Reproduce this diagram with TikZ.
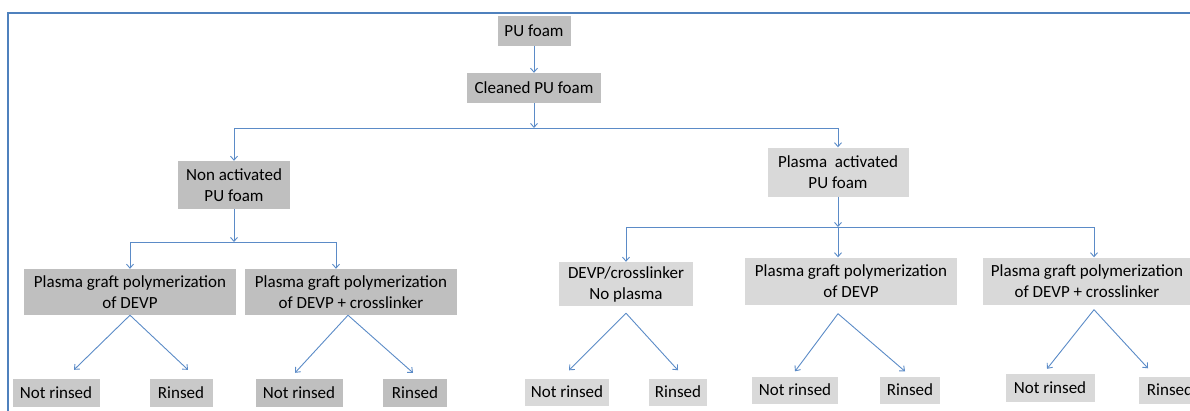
\documentclass[tikz,border=0pt]{standalone}
\usepackage{fontspec}
\setmainfont{Carlito}
\usepackage{xcolor}
\usetikzlibrary{arrows.meta,calc}

\definecolor{boxdark}{HTML}{BFBFBF}
\definecolor{boxlight}{HTML}{D9D9D9}
\definecolor{linkblue}{HTML}{5B8BC7}
\definecolor{frameblue}{HTML}{4F81BD}

\begin{document}
\begin{tikzpicture}[x=1pt, y=-1pt,
  block/.style={fill=boxdark, inner sep=0pt, align=center, minimum height=30pt,
    font=\fontsize{17}{21}\selectfont},
  lightblock/.style={block, fill=boxlight},
  arrow/.style={-{Straight Barb[length=4pt,width=7pt]}, draw=linkblue, line width=0.9pt}
]
\useasboundingbox (0,0) rectangle (1190,410);

% Frame
\draw[frameblue, line width=2.2pt] (8,412) -- (8,13) -- (1192,13);

% Blocks
\node[block, minimum width=73pt] (pu) at (534,31) {PU foam};
\node[block, minimum width=134pt] (clean) at (534,88) {Cleaned PU foam};
\node[block, minimum width=112pt, minimum height=48pt] (nonact) at (234,185) {Non activated\\PU foam};
\node[lightblock, minimum width=141pt, minimum height=49pt] (plasma) at (838,172) {Plasma~ activated\\PU foam};

\node[block, minimum width=212pt, minimum height=46pt] (graftA) at (130,292) {Plasma graft polymerization\\of DEVP};
\node[block, minimum width=212pt, minimum height=46pt] (graftB) at (351,292) {Plasma graft polymerization\\of DEVP + crosslinker};
\node[lightblock, minimum width=134pt, minimum height=44pt] (devp) at (626,284) {DEVP/crosslinker\\No plasma};
\node[lightblock, minimum width=212pt, minimum height=47pt] (graftC) at (851,281) {Plasma graft polymerization\\of DEVP};
\node[lightblock, minimum width=208pt, minimum height=47pt] (graftD) at (1087,281) {Plasma graft polymerization\\of DEVP + crosslinker};

% Results
\node[block, fill=boxdark!85!white, minimum width=87pt, minimum height=28pt] (notA) at (56,393) {Not rinsed};
\node[block, fill=boxdark!85!white, minimum width=63pt, minimum height=28pt] (rinA) at (181,393) {Rinsed};
\node[block, minimum width=87pt, minimum height=28pt] (notB) at (299,393) {Not rinsed};
\node[block, minimum width=64pt, minimum height=28pt] (rinB) at (415,393) {Rinsed};
\node[lightblock, minimum width=84pt, minimum height=27pt] (notC) at (567,392) {Not rinsed};
\node[lightblock, minimum width=58pt, minimum height=27pt] (rinC) at (678,392) {Rinsed};
\node[lightblock, minimum width=86pt, minimum height=27pt] (notD) at (795,390) {Not rinsed};
\node[lightblock, minimum width=60pt, minimum height=27pt] (rinD) at (910,390) {Rinsed};
\node[lightblock, minimum width=89pt, minimum height=28pt] (notE) at (1050,388) {Not rinsed};
\node[lightblock, minimum width=62pt, minimum height=27pt] (rinE) at (1170,390) {Rinsed};

% Split points
\coordinate (split1) at (534,128);
\coordinate (split2) at (234,242);
\coordinate (split3) at (838,227);

% Arrows
\draw[arrow] (pu) -- (clean);
\draw[arrow] (clean) -- (split1);
\draw[arrow] (split1) -| (nonact);
\draw[arrow] (split1) -| (plasma);

\draw[arrow] (nonact) -- (split2);
\draw[arrow] (split2) -| (graftA);
\draw[arrow] (split2) -| ([xshift=-15pt]graftB.north);

\draw[arrow] (plasma) -- (split3);
\draw[arrow] (split3) -| (devp);
\draw[arrow] (split3) -- ([xshift=-13pt]graftC.north);
\draw[arrow] (split3) -| ([xshift=7pt]graftD.north);

% Rinsing branches
\draw[arrow] (graftA.south) -- ($(notA.north)+(18,-9)$);
\draw[arrow] (graftA.south) -- ($(rinA.north)+(7,-9)$);
\draw[arrow] ([xshift=-3pt]graftB.south) -- ($(notB.north)+(-4,-6)$);
\draw[arrow] ([xshift=-3pt]graftB.south) -- ($(rinB.north)+(-2,-6)$);
\draw[arrow] ([yshift=-7pt]devp.south) -- ($(notC.north)+(2,-8)$);
\draw[arrow] ([yshift=-7pt]devp.south) -- ($(rinC.north)+(0,-8)$);
\draw[arrow] ([xshift=-13pt,yshift=-9pt]graftC.south) -- ($(notD.north)+(0,-5)$);
\draw[arrow] ([xshift=-13pt,yshift=-9pt]graftC.south) -- ($(rinD.north)+(-5,-5)$);
\draw[arrow] ([xshift=7pt,yshift=-5pt]graftD.south) -- ($(notE.north)+(-3,-5)$);
\draw[arrow] ([xshift=7pt,yshift=-5pt]graftD.south) -- ($(rinE.north)+(-22,-8)$);

\end{tikzpicture}
\end{document}
